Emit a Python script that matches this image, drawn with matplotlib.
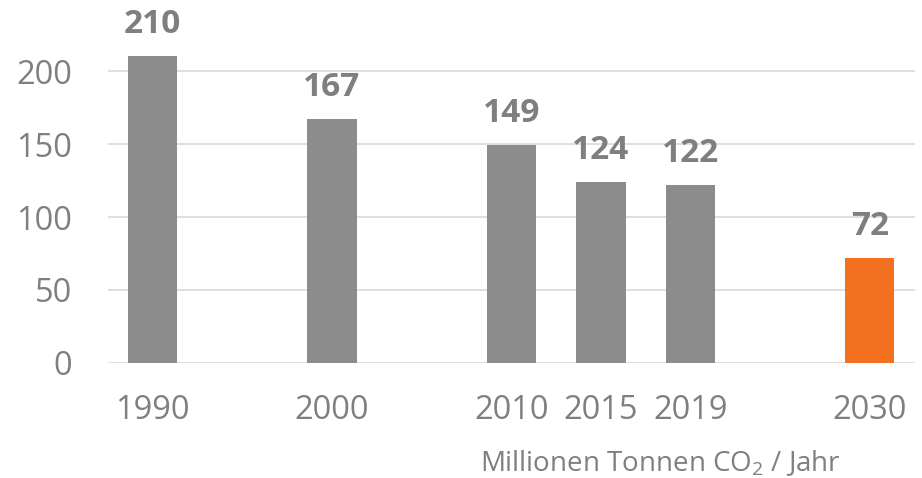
import matplotlib
matplotlib.use('Agg')
import matplotlib.pyplot as plt

plt.rcParams['font.family'] = ['Open Sans', 'DejaVu Sans']
plt.rcParams['mathtext.fontset'] = 'custom'
plt.rcParams['mathtext.rm'] = 'Open Sans'
plt.rcParams['mathtext.it'] = 'Open Sans'

# Data
years = ['1990', '2000', '2010', '2015', '2019', '2030']
emissions = [210, 167, 149, 124, 122, 72]
y_ticks = [0, 50, 100, 150, 200]

# layout: slot index for each year (gaps of one empty slot)
slots = [0, 2, 4, 5, 6, 8]

gray = '#8c8c8c'
orange = '#f37021'
text_gray = '#7f7f7f'
colors = [gray] * 5 + [orange]

fig = plt.figure(figsize=(9.22, 4.78), dpi=100)
ax = fig.add_axes([0.117, 0.2406, 0.875, 0.733])

bars = ax.bar(slots, emissions, width=0.55, color=colors, zorder=3)

for b, v in zip(bars, emissions):
    ax.annotate(str(v), (b.get_x() + b.get_width() / 2, v),
                xytext=(0, 11), textcoords='offset points',
                ha='center', va='bottom', fontsize=24, fontweight='bold',
                color=text_gray)

ax.set_xlim(-0.5, 8.5)
ax.set_ylim(0, 240)
ax.set_yticks(y_ticks)
ax.set_xticks(slots)
ax.set_xticklabels(years)
ax.yaxis.grid(True, color='#d9d9d9', linewidth=1.2, zorder=0)
ax.tick_params(axis='both', length=0, labelsize=23.5, colors=text_gray)
ax.tick_params(axis='x', pad=22)
ax.tick_params(axis='y', pad=26)
for s in ax.spines.values():
    s.set_visible(False)

fig.text(660 / 922, 1 - 463 / 478, 'Millionen Tonnen CO$_2$ / Jahr',
         ha='center', va='center', fontsize=20, color=text_gray)

fig.savefig('out.png', dpi=100)
